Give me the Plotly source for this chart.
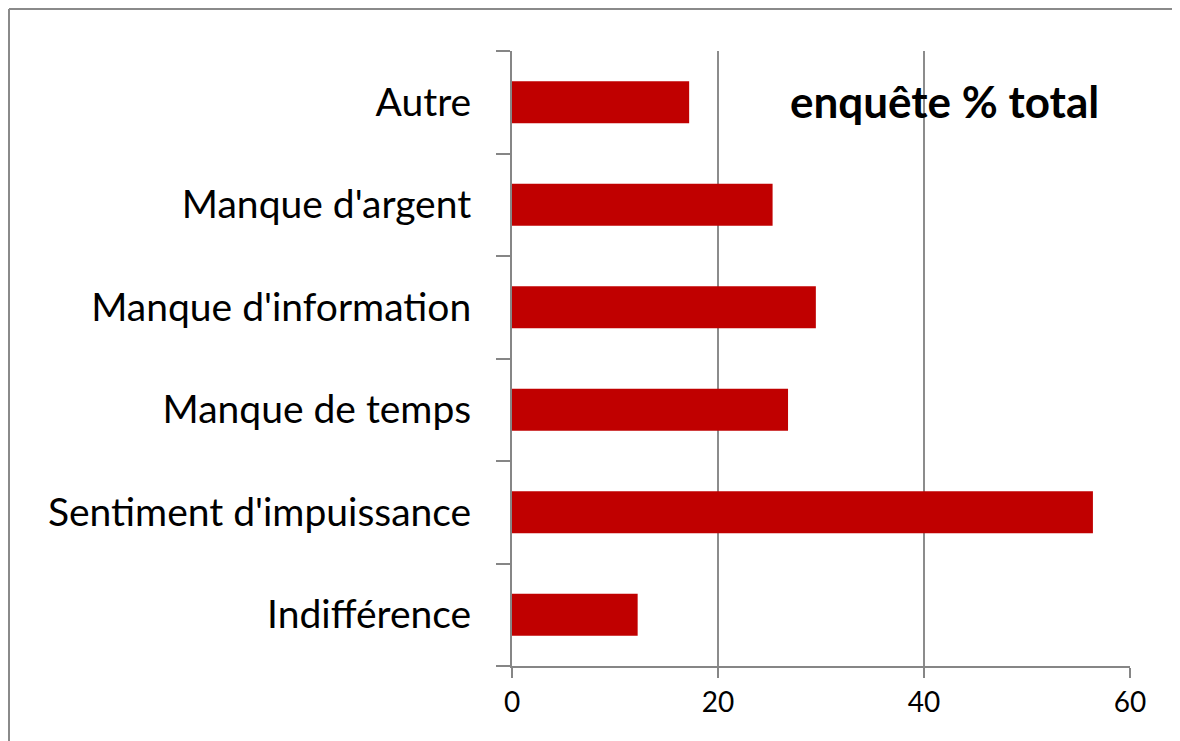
import plotly.graph_objects as go

# survey categories (bottom to top) and % values
categories = ["Indifférence", "Sentiment d'impuissance", "Manque de temps",
              "Manque d'information", "Manque d'argent", "Autre"]
values = [12.2, 56.4, 26.8, 29.5, 25.3, 17.2]
x_ticks = [0, 20, 40, 60]

OFF = 8  # page body margin shifts the figure by 8px
W, H = 1180 - OFF, 741 - OFF
L, R, T, B = 512 - OFF, 1180 - 1130, 51 - OFF, 741 - 666

fig = go.Figure()
fig.add_trace(go.Bar(
    x=values, y=categories, orientation='h',
    marker=dict(color='#C00000', line=dict(width=0)),
))

# helpers: screen pixel -> paper coords
pw, ph = W - L - R, H - T - B
def px_x(p):
    return (p - OFF - L) / pw
def px_y(p):
    return (H - B - (p - OFF)) / ph

# outer chart frame: only the top and left edges are in view
frame = dict(color='#8a8a8a', width=2)
fig.add_shape(type='line', xref='paper', yref='paper', layer='below',
              x0=px_x(9), x1=px_x(1180), y0=px_y(9), y1=px_y(9), line=frame)
fig.add_shape(type='line', xref='paper', yref='paper', layer='below',
              x0=px_x(9), x1=px_x(9), y0=px_y(9), y1=px_y(741), line=frame)

fig.add_annotation(text='<b>enquête % total</b>', xref='paper', yref='paper',
                   x=px_x(1101), y=px_y(101), xanchor='right', yanchor='middle',
                   showarrow=False, font=dict(size=44, color='black'))

fig.update_xaxes(range=[0, 60], tickvals=x_ticks, showgrid=True,
                 gridcolor='#8c8c8c', gridwidth=1.5,
                 showline=True, linecolor='#868686', linewidth=2,
                 ticks='outside', ticklen=10, tickcolor='#868686', tickwidth=2,
                 tickfont=dict(size=28, color='black'), zeroline=False)
fig.update_yaxes(showgrid=False, showline=True, linecolor='#868686', linewidth=2,
                 ticks='outside', ticklen=14, tickcolor='#868686', tickwidth=2,
                 tickson='boundaries', ticklabelstandoff=31,
                 tickfont=dict(size=39, color='black'))

fig.update_layout(
    width=W, height=H,
    margin=dict(l=L, r=R, t=T, b=B, autoexpand=False),
    plot_bgcolor='white', paper_bgcolor='white',
    bargap=0.59, showlegend=False,
    font=dict(family='Lato, Open Sans, sans-serif'),
)

fig.write_html("out.html")
